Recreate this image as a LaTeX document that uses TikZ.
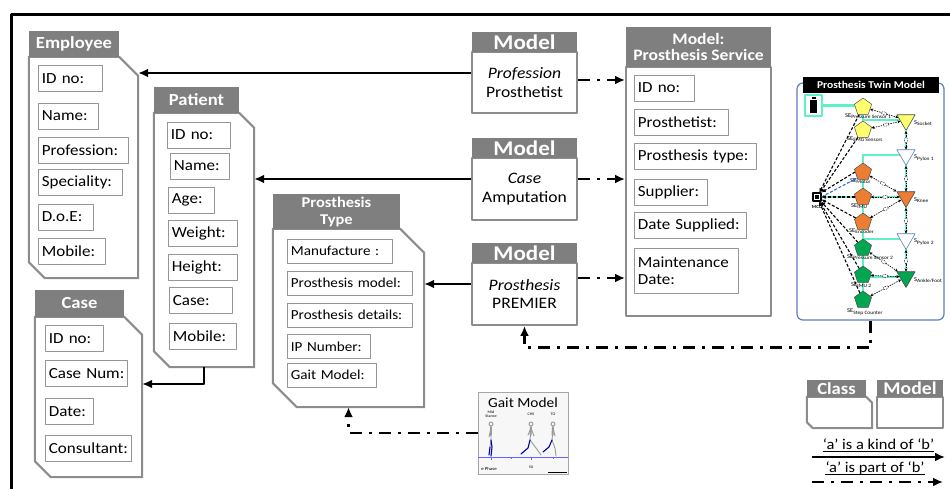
\documentclass[tikz,border=0pt]{standalone}
\usepackage{fontspec}
\setmainfont{Carlito}[FakeStretch=1.1]
\usetikzlibrary{arrows.meta,shapes.geometric,backgrounds}
\definecolor{headgray}{RGB}{127,127,127}
\definecolor{linegray}{RGB}{140,140,140}
\definecolor{boxgray}{RGB}{150,150,150}
\definecolor{twinblue}{RGB}{91,128,190}
\definecolor{powerline}{RGB}{95,240,200}
\definecolor{seyellow}{RGB}{255,255,110}
\definecolor{seorange}{RGB}{237,125,49}
\definecolor{segreen}{RGB}{0,166,80}
\definecolor{ctrlblue}{RGB}{40,110,220}
\newcommand{\cutoutline}[3]{%
  \draw[classline] (#1.north west) -- ([xshift=-#2]#1.north east) -- ([yshift=-#2]#1.north east)
    -- (#1.south east) -- ([xshift=#3]#1.south west) -- ([yshift=#3]#1.south west) -- cycle;}
\begin{document}
\begin{tikzpicture}[>={Latex[length=10bp,width=9bp]},line join=bevel,
  classhead/.style={fill=headgray,text=white,font=\bfseries\fontsize{17}{18}\selectfont,inner sep=0pt,align=center},
  classbody/.style={draw=none,inner sep=0pt},
  classline/.style={draw=linegray,line width=2bp,line join=miter},
  fieldbox/.style={draw=boxgray,line width=0.8bp,anchor=west,align=left,inner xsep=3.5bp,inner ysep=0pt,
    minimum height=26bp,text width=#1,font=\fontsize{15.5}{17}\selectfont},
  smallfield/.style={fieldbox=#1,minimum height=24bp,font=\fontsize{13.8}{15}\selectfont},
  modelhead/.style={fill=headgray,text=white,font=\bfseries\fontsize{21}{21}\selectfont,inner sep=0pt,
    minimum width=105bp,minimum height=20bp},
  modelbody/.style={draw=linegray,line width=2bp,minimum width=105bp,align=center,font=\fontsize{16}{19}\selectfont},
  kindof/.style={->,line width=2.6bp},
  partof/.style={->,line width=2.6bp,dash pattern=on 12bp off 7bp on 3bp off 7bp},
  sensor/.style={regular polygon,regular polygon sides=5,draw=black!70,line width=0.5bp,fill=#1,minimum size=18bp,inner sep=0pt},
  limbpart/.style={regular polygon,regular polygon sides=3,shape border rotate=180,line width=0.6bp,minimum size=21bp,inner sep=0pt},
  selabel/.style={anchor=west,inner sep=0pt,font=\fontsize{6}{6}\selectfont},
  power/.style={draw=powerline,line width=2.5bp},
  sig/.style={->,>={Latex[length=4bp,width=4bp]},line width=1.1bp,dash pattern=on 3bp off 1.8bp},
  ctrl/.style={sig,draw=ctrlblue},
  link/.style={<->,>={Stealth[length=3bp,width=3bp]},line width=0.6bp,dash pattern=on 1.5bp off 1bp},
  linkmark/.style={ellipse,draw,fill=white,line width=0.4bp,inner sep=0pt,minimum width=6bp,minimum height=3bp,sloped},
  tinytext/.style={inner sep=0pt,font=\fontsize{3.8}{4}\selectfont,align=center},
  bone/.style={draw=black!40,line width=0.9bp,line cap=round},
  limb/.style={draw=blue!65!black,line width=1.1bp,line cap=round},
]
\useasboundingbox (0bp,0bp) rectangle (950bp,489bp);
%%
\draw[line width=2.6bp] (11.5bp,474.5bp) rectangle (1000bp,-40bp);
% Employee
\node (emp) at (83.5bp,321.5bp) [classbody,minimum width=109bp,minimum height=221bp] {};
\cutoutline{emp}{19bp}{16bp}
\node (emp_head) at (74bp,445bp) [classhead,minimum width=90bp,minimum height=26bp] {Employee};
\node (emp_1) at (38bp,410.5bp) [fieldbox=57bp] {ID~no:};
\node (emp_2) at (38bp,373bp) [fieldbox=53bp] {Name:};
\node (emp_3) at (38bp,339bp) [fieldbox=83bp] {Profession:};
\node (emp_4) at (38bp,307bp) [fieldbox=77bp] {Speciality:};
\node (emp_5) at (38bp,272bp) [fieldbox=48bp] {D.o.E:};
\node (emp_6) at (38bp,238bp) [fieldbox=60bp] {Mobile:};
% Patient
\node (pat) at (204bp,249bp) [classbody,minimum width=100bp,minimum height=254bp] {};
\cutoutline{pat}{15bp}{16bp}
\node (pat_head) at (196.5bp,389bp) [classhead,minimum width=85bp,minimum height=26bp] {Patient};
\node (pat_1) at (167bp,354bp) [fieldbox=56bp] {ID~no:};
\node (pat_2) at (170bp,323bp) [fieldbox=52bp] {Name:};
\node (pat_3) at (168bp,289bp) [fieldbox=39bp] {Age:};
\node (pat_4) at (168bp,256bp) [fieldbox=62bp] {Weight:};
\node (pat_5) at (168bp,222bp) [fieldbox=62bp] {Height:};
\node (pat_6) at (169bp,188.5bp) [fieldbox=56bp] {Case:};
\node (pat_7) at (169bp,152.5bp) [fieldbox=60bp] {Mobile:};
% Case
\node (case) at (88.5bp,92bp) [classbody,minimum width=107bp,minimum height=160bp] {};
\cutoutline{case}{18bp}{16bp}
\node (case_head) at (79.5bp,185.5bp) [classhead,minimum width=89bp,minimum height=27bp] {Case};
\node (case_1) at (45bp,150.5bp) [fieldbox=51bp] {ID~no:};
\node (case_2) at (45bp,115.5bp) [fieldbox=75bp] {Case~Num:};
\node (case_3) at (45bp,77.5bp) [fieldbox=41bp] {Date:};
\node (case_4) at (45bp,40.5bp) [fieldbox=79bp] {Consultant:};
% Prosthesis Type
\node (ptype) at (348.5bp,171bp) [classbody,minimum width=151bp,minimum height=178bp] {};
\cutoutline{ptype}{24bp}{24bp}
\node (ptype_head) at (336.5bp,277.5bp) [classhead,font=\bfseries\fontsize{15}{17}\selectfont,minimum width=127bp,minimum height=35bp] {Prosthesis\\Type};
\node (ptype_1) at (287bp,238bp) [smallfield=98bp] {Manufacture~:};
\node (ptype_2) at (287bp,206bp) [smallfield=118bp] {Prosthesis~model:};
\node (ptype_3) at (287bp,174bp) [smallfield=118bp] {Prosthesis~details:};
\node (ptype_4) at (287bp,142.5bp) [smallfield=76bp] {IP~Number:};
\node (ptype_5) at (287bp,114bp) [smallfield=82bp] {Gait~Model:};
% Models
\node (m1) at (524.5bp,406.5bp) [modelbody,minimum height=61bp] {\textit{Profession}\\Prosthetist};
\node (m1_head) at (524.5bp,447bp) [modelhead] {Model};
\node (m2) at (524.5bp,300bp) [modelbody,minimum height=62bp] {\textit{Case}\\Amputation};
\node (m2_head) at (524.5bp,341bp) [modelhead] {Model};
\node (m3) at (524.5bp,195bp) [modelbody,minimum height=62bp] {\textit{Prosthesis}\\PREMIER};
\node (m3_head) at (524.5bp,236bp) [modelhead] {Model};
% Prosthesis Service
\node (serv) at (698.5bp,297.5bp) [draw=linegray,line width=2bp,minimum width=145bp,minimum height=249bp] {};
\node (serv_head) at (698.5bp,442bp) [classhead,font=\bfseries\fontsize{16}{17}\selectfont,minimum width=145bp,minimum height=40bp] {Model:\\Prosthesis Service};
\node (serv_1) at (634bp,401bp) [fieldbox=53bp] {ID~no:};
\node (serv_2) at (634bp,367bp) [fieldbox=87bp] {Prosthetist:};
\node (serv_3) at (634bp,333bp) [fieldbox=115bp] {Prosthesis~type:};
\node (serv_4) at (634bp,297bp) [fieldbox=66bp] {Supplier:};
\node (serv_5) at (634bp,263.5bp) [fieldbox=105bp] {Date~Supplied:};
\node (serv_6) at (634bp,218.5bp) [fieldbox=97bp,minimum height=45bp] {Maintenance\\Date:};
% Twin model
\node (twin) at (870.5bp,287.5bp) [draw=twinblue,line width=1.2bp,rounded corners=6bp,minimum width=147bp,minimum height=237bp] {};
\node (twin_head) at (871bp,404bp) [fill=black,text=white,font=\bfseries\fontsize{10.5}{11}\selectfont,minimum width=136bp,minimum height=16bp,inner sep=0pt] {Prosthesis Twin Model};
\node (batt) at (813.5bp,383.5bp) [draw=powerline,line width=2bp,minimum width=17bp,minimum height=21bp,inner sep=0pt] {};
\node (batt_cell) at (813.5bp,383bp) [fill=black,draw=white,line width=0.5bp,minimum width=8bp,minimum height=14bp,inner sep=0pt] {};
\node (batt_tip) at (813.5bp,390.8bp) [fill=black,minimum width=4bp,minimum height=1.6bp,inner sep=0pt] {};
\node (mcu) at (817bp,292bp) [draw=black,fill=white,line width=1.2bp,minimum size=8bp,inner sep=0pt] {};
\node (mcu_core) at (817bp,292bp) [fill=black,minimum size=3.5bp,inner sep=0pt] {};
\node (mcu_label) at (817bp,282bp) [font=\bfseries\fontsize{4.5}{5}\selectfont,inner sep=0pt] {MCU};
\node (se_1) at (863bp,382bp) [sensor=seyellow] {};
\node (se_2) at (863bp,359bp) [sensor=seyellow] {};
\node (se_3) at (863bp,317bp) [sensor=seorange] {};
\node (se_4) at (863bp,292bp) [sensor=seorange] {};
\node (se_5) at (863bp,267bp) [sensor=seorange] {};
\node (se_6) at (863bp,241bp) [sensor=segreen] {};
\node (se_7) at (863bp,214bp) [sensor=segreen] {};
\node (se_8) at (863bp,189bp) [sensor=segreen] {};
\node (se_1_label) at (845bp,373bp) [selabel] {SE\textsubscript{Pressure Sensor 1}};
\node (se_2_label) at (847bp,350bp) [selabel] {SE\textsubscript{EMG Sensors}};
\node (se_3_label) at (850bp,308bp) [selabel] {SE\textsubscript{Motor}};
\node (se_4_label) at (851bp,283bp) [selabel] {SE\textsubscript{IMU}};
\node (se_5_label) at (849bp,258bp) [selabel] {SE\textsubscript{Encoder}};
\node (se_6_label) at (847bp,232bp) [selabel] {SE\textsubscript{Pressure Sensor 2}};
\node (se_7_label) at (851bp,204bp) [selabel] {SE\textsubscript{IMU 2}};
\node (se_8_label) at (847bp,177bp) [selabel] {SE\textsubscript{Step Counter}};
\node (s_1) at (906bp,369bp) [limbpart,fill=seyellow,draw=black!70] {};
\node (s_2) at (906bp,334bp) [limbpart,fill=white,draw=twinblue] {};
\node (s_3) at (906bp,292bp) [limbpart,fill=seorange,draw=black!70] {};
\node (s_4) at (906bp,250bp) [limbpart,fill=white,draw=twinblue] {};
\node (s_5) at (906bp,212bp) [limbpart,fill=segreen,draw=black!70] {};
\node (s_1_label) at (914bp,366bp) [selabel] {S\textsubscript{Socket}};
\node (s_2_label) at (914bp,331bp) [selabel] {S\textsubscript{Pylon 1}};
\node (s_3_label) at (914bp,289bp) [selabel] {S\textsubscript{Knee}};
\node (s_4_label) at (914bp,247bp) [selabel] {S\textsubscript{Pylon 2}};
\node (s_5_label) at (914bp,209bp) [selabel] {S\textsubscript{Ankle/Foot}};
\begin{scope}[on background layer]
  \draw[power] (batt.east) -- (batt.east -| se_1);
  \draw[power] (se_1) |- (s_1);
  \draw[power] (s_1) -- (s_5);
  \draw[power] (s_2) -- (s_2 -| se_3) -- (se_8);
  \draw[power] (mcu) -- (s_3);
  \draw[power] (s_4) -- (s_4 -| se_5);
  \draw[power] (s_5) -- (s_5 -| se_7);
\end{scope}
\draw[sig] (se_1) -- (mcu);
\draw[sig] (se_2) -- (mcu);
\draw[sig] (se_3.west) -- (mcu.north east);
\draw[ctrl] (mcu.east) -- (se_3.south west);
\draw[sig] (se_4) -- (mcu);
\draw[sig] (se_5) -- (mcu);
\draw[sig] (se_6) -- (mcu);
\draw[sig] (se_7) -- (mcu);
\draw[sig] (se_8) -- (mcu);
\draw[link] (se_1) -- (s_1) node[linkmark,midway] (lk_1) {};
\draw[link] (se_2) -- (s_1) node[linkmark,midway] (lk_2) {};
\draw[link] (se_3) -- (s_3) node[linkmark,midway] (lk_3) {};
\draw[link] (se_4) -- (s_3) node[linkmark,midway] (lk_4) {};
\draw[link] (se_5) -- (s_3) node[linkmark,midway] (lk_5) {};
\draw[link] (se_6) -- (s_5) node[linkmark,midway] (lk_6) {};
\draw[link] (se_7) -- (s_5) node[linkmark,midway] (lk_7) {};
\draw[link] (se_8) -- (s_5) node[linkmark,midway] (lk_8) {};
\draw[link] (s_1) -- (s_2) node[linkmark,midway] (lk_9) {};
\draw[link] (s_2) -- (s_3) node[linkmark,midway] (lk_10) {};
\draw[link] (s_3) -- (s_4) node[linkmark,midway] (lk_11) {};
\draw[link] (s_4) -- (s_5) node[linkmark,midway] (lk_12) {};
% Gait model picture
\node (gait) at (523bp,56bp) [draw=black!35,line width=0.8bp,fill=black!3,minimum width=90bp,minimum height=82bp] {};
\node (gait_title) at (523bp,86bp) [font=\fontsize{14}{14}\selectfont,inner sep=0pt] {Gait Model};
\node (gait_mid) at (491bp,75bp) [tinytext] {Mid\\Stance};
\node (gait_chs) at (531bp,75bp) [tinytext] {CHS};
\node (gait_to) at (553bp,75bp) [tinytext] {TO};
\draw[bone] (491bp,65bp) circle (2bp);
\draw[bone,line width=2bp] (491bp,62bp) -- (491bp,54bp);
\draw[bone] (491bp,54bp) -- (491bp,49bp) (491bp,61bp) -- (489bp,52bp);
\draw[bone] (491bp,49bp) -- (490bp,42bp);
\draw[limb] (491bp,49bp) -- (492bp,42bp) -- (491bp,33bp) (490bp,42bp) -- (489bp,34bp);
\draw[bone] (531bp,65bp) circle (2bp);
\draw[bone,line width=2bp] (531bp,62bp) -- (530.5bp,54bp);
\draw[bone] (530.5bp,54bp) -- (530bp,49bp) (531bp,61bp) -- (534bp,53bp) (531bp,61bp) -- (528bp,54bp);
\draw[bone] (530bp,49bp) -- (536bp,41bp) -- (541bp,34bp);
\draw[limb] (530bp,49bp) -- (528bp,41bp) -- (521bp,35bp);
\draw[bone] (553bp,65bp) circle (2bp);
\draw[bone,line width=2bp] (553bp,62bp) -- (552.5bp,54bp);
\draw[bone] (552.5bp,54bp) -- (552bp,49bp) (553bp,61bp) -- (555bp,53bp);
\draw[bone] (552bp,49bp) -- (555bp,41bp) -- (556bp,33bp);
\draw[limb] (552bp,49bp) -- (549bp,42bp) -- (543bp,37bp);
\draw[draw=blue!60,line width=0.7bp] (478bp,32bp) -- (568bp,32bp);
\draw[draw=blue!60,line width=0.6bp] (491bp,32bp) -- (491bp,29bp) (511bp,32bp) -- (511bp,30bp)
  (531bp,32bp) -- (531bp,29bp) (553bp,32bp) -- (553bp,30bp);
\node (gait_phase) at (489bp,20bp) [tinytext,font=\fontsize{4.5}{5}\selectfont] {e Phase};
\node (gait_fifty) at (531bp,22bp) [tinytext] {50};
\draw[line width=0.4bp] (548bp,16.5bp) -- (567bp,16.5bp);
% connectors
\coordinate (m1_kind) at ([yshift=9.5bp]m1.west);
\coordinate (m2_kind) at ([yshift=10bp]m2.west);
\coordinate (m3_kind) at ([yshift=10bp]m3.west);
\draw[kindof] (m1_kind) -- (m1_kind -| emp.east);
\draw[kindof] (m2_kind) -- (m2_kind -| pat.east);
\draw[kindof] (m3_kind) -- (m3_kind -| ptype.east);
\draw[kindof] (pat.south) |- ([yshift=13bp]case.east);
\coordinate (m1_part) at ([yshift=2.5bp]m1.east);
\coordinate (m2_part) at ([yshift=10bp]m2.east);
\coordinate (m3_part) at ([yshift=16bp]m3.east);
\draw[partof] (m1_part) -- (m1_part -| serv.west);
\draw[partof] (m2_part) -- (m2_part -| serv.west);
\draw[partof] (m3_part) -- (m3_part -| serv.west);
\draw[partof] (twin.south) -- ++(0,-27bp) -| (m3.south);
\draw[partof] (gait.west) -| (ptype.south);
% legend
\node (leg_class) at (839.5bp,76.5bp) [classbody,minimum width=65bp,minimum height=31bp] {};
\cutoutline{leg_class}{6bp}{6bp}
\node (leg_class_head) at (836.5bp,100.5bp) [classhead,minimum width=59bp,minimum height=17bp] {Class};
\node (leg_model) at (910bp,76.5bp) [draw=linegray,line width=2bp,minimum width=66bp,minimum height=31bp] {};
\node (leg_model_head) at (910bp,100.5bp) [modelhead,font=\bfseries\fontsize{18}{18}\selectfont,minimum width=66bp,minimum height=17bp] {Model};
\node (leg_kind) at (878.5bp,45bp) [font=\fontsize{15}{16}\selectfont,inner sep=0pt] {‘a’ is a kind of ‘b’};
\draw[line width=1.2bp] ([yshift=-2.5bp]leg_kind.base west) -- ([yshift=-2.5bp]leg_kind.base east);
\coordinate (kind_a) at (812bp,32bp);
\coordinate (kind_b) at (945bp,32bp);
\draw[kindof,line width=2bp] (kind_a) -- (kind_b);
\node (leg_part) at (875bp,21bp) [font=\fontsize{15}{16}\selectfont,inner sep=0pt] {‘a’ is part of ‘b’};
\draw[line width=1.2bp] ([yshift=-2.5bp]leg_part.base west) -- ([yshift=-2.5bp]leg_part.base east);
\coordinate (part_a) at (812bp,7bp);
\coordinate (part_b) at (943bp,7bp);
\draw[partof,line width=2bp] (part_a) -- (part_b);
%
\end{tikzpicture}
\end{document}
